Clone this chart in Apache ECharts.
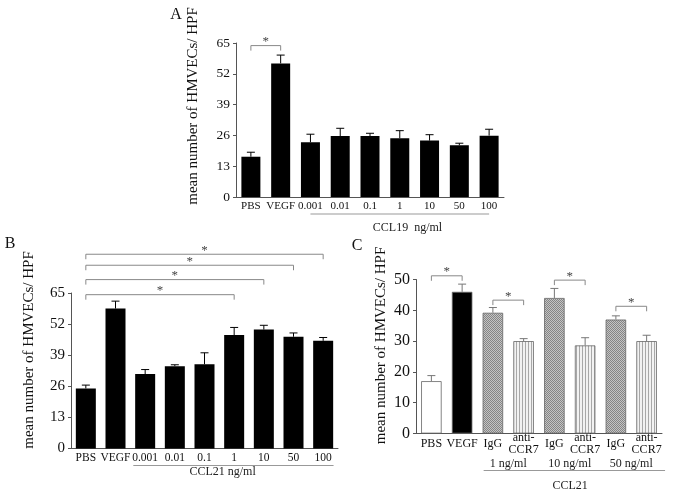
<!DOCTYPE html>
<html><head><meta charset="utf-8">
<script src="https://cdn.jsdelivr.net/npm/echarts@6/dist/echarts.min.js"></script>
<style>html,body{margin:0;padding:0;background:#fff}#c{width:675px;height:494px}</style>
</head><body><div id="c"></div>
<script>
// ---- data ----
const catsA = ['PBS','VEGF','0.001','0.01','0.1','1','10','50','100'];
const meanA = [17.0,56.4,23.1,25.7,25.7,24.8,23.8,21.8,25.9];
const errA  = [1.9,3.5,3.4,3.3,1.2,3.2,2.5,0.9,2.7];
const catsB = ['PBS','VEGF','0.001','0.01','0.1','1','10','50','100'];
const meanB = [25.1,58.5,31.1,34.4,35.2,47.4,49.7,46.7,45.0];
const errB  = [1.4,3.1,1.9,0.6,4.8,3.2,1.8,1.6,1.4];
const catsC = ['PBS','VEGF','IgG','anti-\nCCR7','IgG','anti-\nCCR7','IgG','anti-\nCCR7'];
const meanC = [17.0,46.0,39.2,30.0,44.0,28.6,37.0,30.0];
const errC  = [1.8,2.5,1.7,0.8,3.1,2.5,1.2,1.9];
const ticksAB = [0,13,26,39,52,65];
const ticksC = [0,10,20,30,40,50];
// significance brackets: [fromIndex, toIndex, level]
const sigA = [[0,1,63.9]];
const sigB = [[0,5,64.3],[0,6,70.6],[0,7,76.6],[0,8,81.2]];
const sigC = [[0,1,51.2],[2,3,43.3],[4,5,49.8],[6,7,41.3]];
const groupA = ['CCL19  ng/ml'];
const groupB = ['CCL21 ng/ml'];
const doseC = ['1 ng/ml','10 ng/ml','50 ng/ml'];
const groupC = ['CCL21'];
const yTitle = 'mean number of HMVECs/ HPF';

const FONT = '"Liberation Serif", "Times New Roman", serif';

function mkPattern(kind){
  const c = document.createElement('canvas');
  if(kind==='dots'){
    c.width=2;c.height=2;const g=c.getContext('2d');
    g.fillStyle='#c4c4c4';g.fillRect(0,0,2,2);
    g.fillStyle='#858585';g.fillRect(0,0,1,1);g.fillRect(1,1,1,1);
  } else {
    c.width=3;c.height=2;const g=c.getContext('2d');
    g.fillStyle='#f2f2f2';g.fillRect(0,0,3,2);
    g.fillStyle='#a8a8a8';g.fillRect(0,0,1,2);
  }
  return {image:c, repeat:'repeat'};
}
const dots = mkPattern('dots'), stripes = mkPattern('stripes');
const colorsC = ['#ffffff','#000000',dots,stripes,dots,stripes,dots,stripes];

const chart = echarts.init(document.getElementById('c'));

function errRender(color){
  return function(params, api){
    const i = api.value(0), m = api.value(1), e = api.value(2);
    const b = api.coord([i, m]), t = api.coord([i, m+e]);
    return {type:'group', children:[
      {type:'line', shape:{x1:b[0],y1:b[1],x2:t[0],y2:t[1]}, style:{stroke:color,lineWidth:1}},
      {type:'line', shape:{x1:t[0]-4,y1:t[1],x2:t[0]+4,y2:t[1]}, style:{stroke:color,lineWidth:1}}
    ]};
  };
}
function sigRender(params, api){
  const a = api.coord([api.value(0), api.value(2)]);
  const b = api.coord([api.value(1), api.value(2)]);
  const st = {stroke:'#888', lineWidth:1};
  return {type:'group', children:[
    {type:'polyline', shape:{points:[[a[0],a[1]+5],[a[0],a[1]],[b[0],b[1]],[b[0],b[1]+5]]}, style:Object.assign({fill:null},st)},
    {type:'text', x:(a[0]+b[0])/2, y:a[1]-4, style:{text:'*', font:'13px '+FONT, fill:'#444', align:'center', verticalAlign:'middle'}}
  ]};
}
// group underline: value [fromPos, toPos, labelPos] in category band units from axis start
function groupRender(lineDy, textDy, labels){
  return function(params, api){
    const bw = api.size([1,0])[0];
    const p0 = api.coord([0,0]);
    const start = p0[0] - bw/2;
    const x1 = start + api.value(0)*bw, x2 = start + api.value(1)*bw, xt = start + api.value(2)*bw;
    const y = p0[1];
    return {type:'group', children:[
      {type:'line', shape:{x1:x1,y1:y+lineDy,x2:x2,y2:y+lineDy}, style:{stroke:'#999',lineWidth:1}},
      {type:'text', x:xt, y:y+textDy, style:{text:labels[params.dataIndex], font:'12px '+FONT, fill:'#222', align:'center', verticalAlign:'middle'}}
    ]};
  };
}
function labelRender(textDy, labels){
  return function(params, api){
    const bw = api.size([1,0])[0];
    const p0 = api.coord([0,0]);
    const x = p0[0] - bw/2 + api.value(0)*bw;
    return {type:'text', x:x, y:p0[1]+textDy, style:{text:labels[params.dataIndex], font:'12px '+FONT, fill:'#222', align:'center', verticalAlign:'middle'}};
  };
}

function yAx(gi, ticks, fs){
  return {type:'value', gridIndex:gi, min:ticks[0], max:ticks[ticks.length-1], interval:ticks[1]-ticks[0],
    axisLine:{show:true, lineStyle:{color:'#555', width:1}},
    axisTick:{show:true, length:3, lineStyle:{color:'#555'}},
    splitLine:{show:false},
    axisLabel:{fontFamily:FONT, fontSize:fs, color:'#111', margin:6}};
}
function xAx(gi, cats, fs, lh, margin, va){
  return {type:'category', gridIndex:gi, data:cats,
    axisLine:{show:true, lineStyle:{color:'#555', width:1}},
    axisTick:{show:false},
    axisLabel:{interval:0, fontFamily:FONT, fontSize:fs, color:'#111', margin:margin, lineHeight:lh, verticalAlign:va}};
}

const option = {
  animation:false,
  grid:[
    {left:236, width:268, top:43, height:154},
    {left:71, width:267, top:293, height:155.5},
    {left:416, width:246, top:279.5, height:154}
  ],
  xAxis:[xAx(0,catsA,11,14,2,'top'), xAx(1,catsB,11.5,14,2,'top'), xAx(2,catsC,12,11.5,10.5,'middle')],
  yAxis:[yAx(0,ticksAB,13.5), yAx(1,ticksAB,15), yAx(2,ticksC,16)],
  series:[
    {type:'bar', xAxisIndex:0, yAxisIndex:0, data:meanA, barWidth:19, itemStyle:{color:'#000'}},
    {type:'custom', xAxisIndex:0, yAxisIndex:0, renderItem:errRender('#000'), data:meanA.map((m,i)=>[i,m,errA[i]]), clip:false, z:3},
    {type:'custom', xAxisIndex:0, yAxisIndex:0, renderItem:sigRender, data:sigA, clip:false},
    {type:'custom', xAxisIndex:0, yAxisIndex:0, renderItem:groupRender(17,31,groupA), data:[[2.5,8.5,5.76]], clip:false},

    {type:'bar', xAxisIndex:1, yAxisIndex:1, data:meanB, barWidth:20, itemStyle:{color:'#000'}},
    {type:'custom', xAxisIndex:1, yAxisIndex:1, renderItem:errRender('#000'), data:meanB.map((m,i)=>[i,m,errB[i]]), clip:false, z:3},
    {type:'custom', xAxisIndex:1, yAxisIndex:1, renderItem:sigRender, data:sigB, clip:false},
    {type:'custom', xAxisIndex:1, yAxisIndex:1, renderItem:groupRender(17,23,groupB), data:[[2.1,8.85,5.11]], clip:false},

    {type:'bar', xAxisIndex:2, yAxisIndex:2, barWidth:20.5,
      data:meanC.map((m,i)=>({value:m, itemStyle:{color:colorsC[i]}})),
      itemStyle:{borderColor:'#666', borderWidth:0.8}},
    {type:'custom', xAxisIndex:2, yAxisIndex:2, renderItem:errRender('#777'), data:meanC.map((m,i)=>[i,m,errC[i]]), clip:false, z:3},
    {type:'custom', xAxisIndex:2, yAxisIndex:2, renderItem:sigRender, data:sigC, clip:false},
    {type:'custom', xAxisIndex:2, yAxisIndex:2, renderItem:labelRender(30,doseC), data:doseC.map((d,k)=>[3+2*k]), clip:false},
    {type:'custom', xAxisIndex:2, yAxisIndex:2, renderItem:groupRender(37,52,groupC), data:[[2.2,8.1,5.01]], clip:false}
  ],
  graphic:[
    {type:'text', x:193, y:106, rotation:Math.PI/2, style:{text:yTitle, font:'15px '+FONT, fill:'#111', align:'center', verticalAlign:'middle'}},
    {type:'text', x:29.5, y:350, rotation:Math.PI/2, style:{text:yTitle, font:'15px '+FONT, fill:'#111', align:'center', verticalAlign:'middle'}},
    {type:'text', x:381.5, y:345.5, rotation:Math.PI/2, style:{text:yTitle, font:'15px '+FONT, fill:'#111', align:'center', verticalAlign:'middle'}},
    {type:'text', x:176, y:15, style:{text:'A', font:'16px '+FONT, fill:'#111', align:'center', verticalAlign:'middle'}},
    {type:'text', x:10, y:244, style:{text:'B', font:'16px '+FONT, fill:'#111', align:'center', verticalAlign:'middle'}},
    {type:'text', x:357, y:246, style:{text:'C', font:'16px '+FONT, fill:'#111', align:'center', verticalAlign:'middle'}}
  ]
};
chart.setOption(option);
</script>
</body></html>
